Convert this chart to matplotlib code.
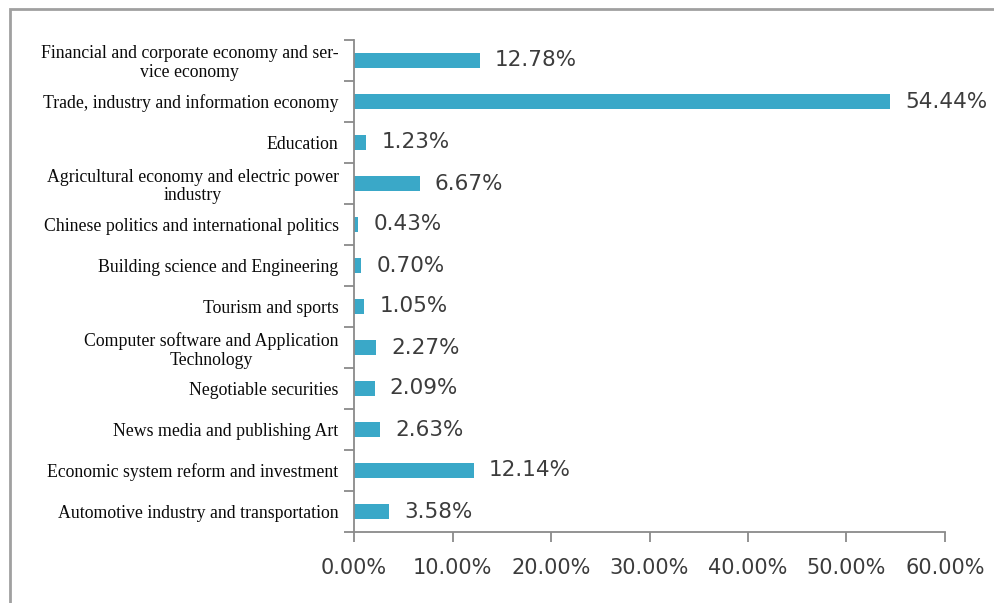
import matplotlib
matplotlib.use('Agg')
import matplotlib.pyplot as plt
from matplotlib.patches import Rectangle
from matplotlib.ticker import FuncFormatter, FixedLocator

categories = [
    "Financial and corporate economy and ser-\nvice economy",
    "Trade, industry and information economy",
    "Education",
    "Agricultural economy and electric power\nindustry",
    "Chinese politics and international politics",
    "Building science and Engineering",
    "Tourism and sports",
    "Computer software and Application\nTechnology",
    "Negotiable securities",
    "News media and publishing Art",
    "Economic system reform and investment",
    "Automotive industry and transportation",
]
shares = [12.78, 54.44, 1.23, 6.67, 0.43, 0.70, 1.05, 2.27, 2.09, 2.63, 12.14, 3.58]
xticks = [0, 10, 20, 30, 40, 50, 60]

bar_color = '#3aa8c8'
axis_color = '#8a8a8a'
num_color = '#3c3c3c'

fig = plt.figure(figsize=(9.95, 6.03), dpi=100)
fig.patch.set_facecolor('white')

# outer frame (only top and left edges fall inside the canvas)
fig.patches.append(Rectangle((10 / 995, -0.05), 1.2, 1 - 9 / 603 + 0.05,
                             transform=fig.transFigure, fill=False,
                             edgecolor='#a0a0a0', linewidth=2))

ax = fig.add_axes([354 / 995, 71 / 603, (945 - 354) / 995, (563 - 71) / 603])

pos = list(range(len(categories)))
bars = ax.barh(pos, shares, height=0.37, color=bar_color)
ax.bar_label(bars, labels=[f"{v:.2f}%" for v in shares], padding=11,
             fontsize=15.5, color=num_color, family='DejaVu Sans')

ax.set_ylim(len(categories) - 0.5, -0.5)
ax.set_xlim(0, 60)

# ticks between categories, labels at centers
ax.yaxis.set_major_locator(FixedLocator([i - 0.5 for i in range(len(categories) + 1)]))
ax.yaxis.set_major_formatter(FuncFormatter(lambda v, p: ''))
ax.yaxis.set_minor_locator(FixedLocator(pos))
ax.set_yticklabels(categories, minor=True, family='Liberation Serif',
                   fontsize=12.8, color='#0a0a0a', multialignment='center',
                   linespacing=1.15)
ax.tick_params(axis='y', which='major', length=7, width=1.3, color=axis_color, direction='out')
ax.tick_params(axis='y', which='minor', length=0, pad=11)

ax.set_xticks(xticks)
ax.xaxis.set_major_formatter(FuncFormatter(lambda v, p: f"{v:.2f}%"))
ax.tick_params(axis='x', length=7, width=1.3, color=axis_color, direction='out',
               pad=12, labelsize=15, labelcolor=num_color)
for lab in ax.get_xticklabels():
    lab.set_family('DejaVu Sans')

for side in ['top', 'right']:
    ax.spines[side].set_visible(False)
for side in ['left', 'bottom']:
    ax.spines[side].set_color(axis_color)
    ax.spines[side].set_linewidth(1.3)

fig.savefig('out.png', dpi=100)
